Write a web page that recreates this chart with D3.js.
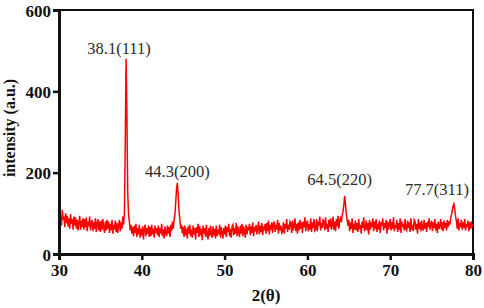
<!DOCTYPE html>
<html>
<head>
<meta charset="utf-8">
<script src="https://cdn.jsdelivr.net/npm/d3@7"></script>
<style>
  body { margin: 0; background: #fff; }
  svg { display: block; }
  text { font-family: "Liberation Serif", "Times New Roman", Times, serif; }
  .tick text { font-weight: bold; font-size: 17px; fill: #111; }
</style>
</head>
<body>
<svg id="xrd_svg" width="484" height="308"></svg>
<script>
// scan grid: 30..80 deg 2theta, 0.1 deg step
const scanStart = 30
const scanStep = 0.1

// intensity readings, one row per degree (30.0 .. 79.9), then 80.0
const intensity = [
  102, 78, 96, 70, 108, 84, 92, 66, 100, 76,
  94, 68, 88, 62, 98, 74, 86, 60, 92, 70,
  90, 62, 84, 58, 78, 94, 60, 82, 66, 88,
  60, 86, 66, 90, 56, 80, 68, 92, 58, 76,
  84, 56, 78, 62, 88, 54, 74, 86, 58, 80,
  54, 82, 60, 86, 64, 52, 80, 58, 84, 62,
  80, 52, 74, 58, 84, 50, 72, 60, 82, 54,
  76, 52, 70, 84, 56, 78, 62, 92, 72, 100,
  270, 480, 340, 150, 96, 80, 58, 72, 50, 66,
  44, 70, 52, 74, 42, 64, 48, 72, 40, 62,
  46, 68, 36, 60, 72, 44, 64, 50, 70, 42,
  66, 44, 72, 48, 62, 40, 70, 52, 64, 46,
  70, 42, 64, 50, 74, 44, 60, 38, 68, 52,
  44, 70, 50, 66, 42, 72, 56, 80, 62, 84,
  96, 128, 162, 175, 142, 104, 84, 62, 72, 50,
  66, 42, 70, 46, 62, 38, 68, 50, 72, 44,
  60, 40, 70, 48, 64, 36, 66, 52, 74, 42,
  68, 46, 62, 34, 70, 50, 64, 42, 72, 48,
  36, 64, 44, 70, 50, 40, 68, 46, 62, 38,
  70, 44, 60, 48, 72, 40, 66, 52, 38, 64,
  48, 70, 42, 66, 54, 74, 44, 62, 40, 68,
  72, 46, 64, 50, 76, 44, 68, 54, 42, 70,
  50, 74, 44, 68, 56, 40, 72, 48, 66, 58,
  74, 46, 68, 52, 78, 44, 66, 56, 72, 48,
  62, 80, 48, 70, 54, 76, 46, 68, 58, 74,
  50, 76, 56, 82, 48, 72, 60, 78, 52, 74,
  80, 54, 72, 60, 84, 50, 76, 58, 70, 52,
  56, 78, 50, 74, 62, 86, 54, 72, 60, 80,
  76, 52, 82, 58, 70, 88, 56, 74, 50, 78,
  58, 84, 62, 78, 52, 80, 66, 90, 56, 76,
  82, 56, 74, 60, 88, 54, 78, 64, 86, 58,
  62, 86, 56, 80, 70, 92, 58, 76, 64, 84,
  80, 58, 90, 62, 74, 54, 84, 66, 88, 60,
  72, 92, 60, 80, 56, 86, 68, 94, 62, 82,
  88, 78, 96, 104, 120, 143, 122, 98, 84, 70,
  84, 56, 78, 62, 88, 52, 74, 60, 82, 58,
  76, 54, 86, 62, 72, 50, 80, 64, 90, 56,
  64, 82, 58, 76, 48, 84, 60, 78, 66, 88,
  56, 80, 62, 86, 54, 74, 60, 82, 52, 78,
  70, 88, 58, 76, 64, 84, 50, 80, 60, 74,
  86, 58, 78, 62, 90, 56, 72, 64, 84, 54,
  76, 60, 88, 52, 80, 66, 74, 58, 86, 62,
  58, 82, 64, 78, 54, 88, 60, 72, 56, 84,
  80, 60, 74, 50, 86, 62, 78, 56, 82, 64,
  58, 84, 62, 76, 54, 80, 66, 88, 60, 72,
  82, 56, 78, 64, 86, 58, 74, 52, 80, 62,
  70, 86, 60, 78, 56, 82, 64, 76, 58, 84,
  66, 80, 72, 88, 96, 108, 118, 123, 110, 92,
  80, 62, 88, 58, 76, 66, 84, 60, 78, 64,
  86, 58, 74, 66, 82, 56, 78, 62, 80, 68,
  72
]

// peak annotations
const peakAngles = [38.1, 44.3, 64.5, 77.7]
const peakIntensity = [480, 175, 143, 123]
const peakHkl = ["(111)", "(200)", "(220)", "(311)"]

const xTicks = [30, 40, 50, 60, 70, 80]
const yTicks = [0, 200, 400, 600]

const svg = d3.select("#xrd_svg")
const margin = { top: 10, right: 11, bottom: 54, left: 59 }
const W = 484, H = 308

const x = d3.scaleLinear().domain([30, 80]).range([margin.left, W - margin.right])
const y = d3.scaleLinear().domain([0, 600]).range([H - margin.bottom, margin.top])

const points = intensity.map((v, i) => [scanStart + i * scanStep, v])

// frame (top / right)
svg.append("path")
  .attr("d", `M${x(30)},${y(600)} H${x(80)} V${y(0)}`)
  .attr("fill", "none").attr("stroke", "#111").attr("stroke-width", 2)

// pattern
const line = d3.line().x((d) => x(d[0])).y((d) => y(d[1]))
svg.append("path").datum(points)
  .attr("d", line)
  .attr("fill", "none").attr("stroke", "#ff0000").attr("stroke-width", 1.5)

// axes
const xAxis = svg.append("g").attr("transform", `translate(0,${y(0)})`)
  .call(d3.axisBottom(x).tickValues(xTicks).tickSize(6).tickPadding(4).tickFormat(d3.format("d")))
const yAxis = svg.append("g").attr("transform", `translate(${x(30)},0)`)
  .call(d3.axisLeft(y).tickValues(yTicks).tickSize(6).tickPadding(2).tickFormat(d3.format("d")))
for (let ax of [xAxis, yAxis]) {
  ax.select(".domain").attr("stroke", "#111").attr("stroke-width", 3)
  ax.selectAll(".tick line").attr("stroke", "#111").attr("stroke-width", 2.5)
  ax.selectAll(".tick text").attr("font-family", null).attr("font-size", null)
}
yAxis.selectAll(".tick text").attr("dy", "0.36em")

// peak labels (pixel shift keeps the last one inside the frame)
const labelShift = [-7, 0, -5, -17]
const labelRaise = [5, 6, 11, 9]
svg.selectAll(".peak_label").data(peakAngles).enter().append("text")
  .attr("class", "peak_label")
  .attr("x", (d, i) => x(d) + labelShift[i])
  .attr("y", (d, i) => y(peakIntensity[i]) - labelRaise[i])
  .attr("text-anchor", "middle")
  .attr("font-size", 16.5).attr("fill", "#2a2a2a")
  .text((d, i) => d.toFixed(1) + peakHkl[i])

// axis titles
svg.append("text")
  .attr("x", (x(30) + x(80)) / 2).attr("y", 301)
  .attr("text-anchor", "middle")
  .attr("font-weight", "bold").attr("font-size", 17).attr("fill", "#111")
  .text("2(θ)")
svg.append("text")
  .attr("transform", `translate(15,${128}) rotate(-90)`)
  .attr("text-anchor", "middle")
  .attr("font-weight", "bold").attr("font-size", 16).attr("fill", "#111")
  .text("intensity (a.u.)")
</script>
</body>
</html>
